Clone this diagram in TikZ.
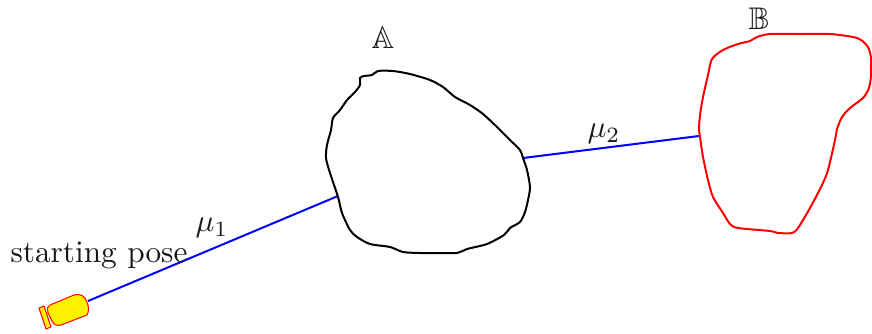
\documentclass[tikz,border=0pt]{standalone}
\usepackage{amssymb}
\tikzset{
  outline/.style={line width=2pt,line join=round,smooth cycle,tension=0.45},
  link/.style={blue,line width=2pt},
  lbl/.style={scale=3.13,inner sep=0pt,text=black!90},
  bodyshape/.style={draw=red,fill=yellow,line width=1pt,line join=round}
}
\begin{document}
\begin{tikzpicture}[x=1pt,y=-1pt]
\useasboundingbox (0,0) rectangle (872,333);
\coordinate (robotfront) at (88,301);
\coordinate (aleft) at (338,196);
\coordinate (aright) at (523,158);
\coordinate (bleft) at (699,136);
\draw[link] (robotfront) -- (aleft);
\draw[link] (aright) -- (bleft);
% set A
\draw[black,outline] plot coordinates {
(360,78)(364,76)(372,75)(378,71)(393,71)(410,74)(430,80)(443,87)(455,97)(470,105)(483,114)(497,127)(510,140)(520,150)(523,158)(527,170)(530,187)(528,200)(525,212)(520,222)(510,228)(504,235)(487,244)(467,249)(457,253)(437,253)(420,253)(403,252)(390,247)(370,244)(357,237)(350,230)(342,213)(338,197)(330,173)(326,158)(327,145)(331,130)(333,118)(340,110)(347,100)(355,92)(360,85)};
% set B
\draw[red,outline] plot coordinates {
(699,129)(700,115)(703,97)(708,75)(712,59)(723,50)(738,44)(750,41)(757,37)(770,34)(800,34)(830,34)(853,37)(861,40)(868,47)(871,58)(871,75)(869,88)(863,98)(850,108)(842,117)(837,129)(835,140)(828,170)(822,185)(810,208)(798,228)(792,233)(778,233)(770,231)(738,228)(730,224)(723,213)(713,197)(708,180)(703,157)(700,137)};
% robot
\draw[bodyshape] (39,308) -- (44,306) -- (51,327) -- (46,329) -- cycle;
\draw[bodyshape] (50,305) -- (74,295) .. controls (80,293) and (85,296) .. (87,302)
  .. controls (89,307) and (89,312) .. (87,315) -- (61,325) .. controls (57,326) and (54,325) .. (52,321) -- (48,313) .. controls (47,310) and (47,307) .. (50,305) -- cycle;
% labels
\node[lbl] (start) at (99,255) {starting pose};
\node[lbl] (mua) at (212,228) {$\mu_1$};
\node[lbl] (mub) at (604,134) {$\mu_2$};
\node[lbl] (seta) at (383,38) {$\mathbb{A}$};
\node[lbl] (setb) at (759,19) {$\mathbb{B}$};
\end{tikzpicture}
\end{document}
